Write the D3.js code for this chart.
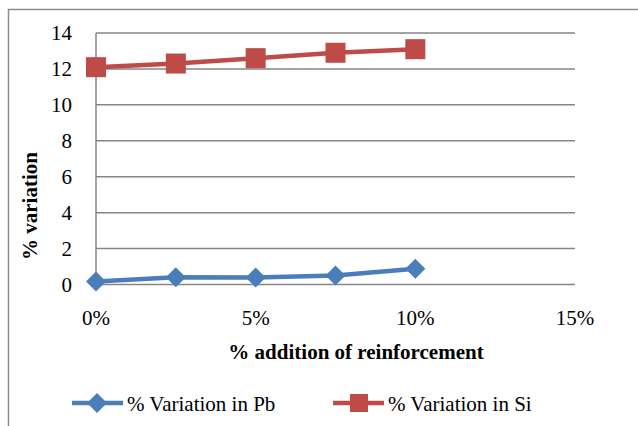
<!DOCTYPE html>
<html>
<head>
<meta charset="utf-8">
<script src="https://cdn.jsdelivr.net/npm/d3@7"></script>
</head>
<body style="margin:0">
<div id="chart"></div>
<script>
// % variation vs % reinforcement
var width = 638, height = 426;
var serif = "Liberation Serif";

// data
var additions = [0, 2.5, 5, 7.5, 10];
var pbValues = [0.17, 0.4, 0.39, 0.5, 0.88];
var siValues = [12.1, 12.3, 12.6, 12.9, 13.1];
var xTicks = [0, 5, 10, 15];
var yTicks = [0, 2, 4, 6, 8, 10, 12, 14];
var seriesNames = ["% Variation in Pb", "% Variation in Si"];

var svg = d3.select("#chart").append("svg")
    .attr("width", width).attr("height", height);

// outer frame of the chart
svg.append("rect").attr("x", 8.5).attr("y", 9.5)
    .attr("width", 700).attr("height", 500)
    .attr("fill", "none").attr("stroke", "#8c8c8c").attr("stroke-width", 1.5);

var x = d3.scaleLinear().domain([0, 15]).range([96, 575]);
var y = d3.scaleLinear().domain([0, 14]).range([284.5, 33]);

// gridlines
svg.append("g").selectAll("line").data(yTicks).enter().append("line")
    .attr("x1", x(0)).attr("x2", x(15))
    .attr("y1", function(d){ return y(d); }).attr("y2", function(d){ return y(d); })
    .attr("stroke", "#868686").attr("stroke-width", 1.5);

// left axis line
svg.append("line").attr("x1", x(0)).attr("x2", x(0))
    .attr("y1", y(14)).attr("y2", y(0))
    .attr("stroke", "#868686").attr("stroke-width", 1.5);

// tick labels
svg.append("g").selectAll("text").data(yTicks).enter().append("text")
    .attr("x", x(0) - 24).attr("y", function(d){ return y(d) + 7; })
    .attr("text-anchor", "end")
    .attr("font-family", serif).attr("font-size", 21)
    .text(function(d){ return d; });

svg.append("g").selectAll("text").data(xTicks).enter().append("text")
    .attr("x", function(d){ return x(d); }).attr("y", y(0) + 40)
    .attr("text-anchor", "middle")
    .attr("font-family", serif).attr("font-size", 21)
    .text(function(d){ return d + "%"; });

// axis titles
svg.append("text").attr("x", 356).attr("y", 359)
    .attr("text-anchor", "middle").attr("font-family", serif)
    .attr("font-size", 21).attr("font-weight", "bold")
    .text("% addition of reinforcement");
svg.append("text").attr("transform", "translate(37,206) rotate(-90)")
    .attr("text-anchor", "middle").attr("font-family", serif)
    .attr("font-size", 21).attr("font-weight", "bold")
    .text("% variation");

// lines
var line = d3.line()
    .x(function(d){ return x(d[0]); })
    .y(function(d){ return y(d[1]); });

var pbData = additions.map(function(a, i){ return [a, pbValues[i]]; });
var siData = additions.map(function(a, i){ return [a, siValues[i]]; });

var colors = ["#4a7ebb", "#be4b48"];

svg.append("path").datum(pbData).attr("d", line)
    .attr("fill", "none").attr("stroke", colors[0]).attr("stroke-width", 4.5);
svg.append("path").datum(siData).attr("d", line)
    .attr("fill", "none").attr("stroke", colors[1]).attr("stroke-width", 4.5);

var diamond = d3.symbol().type(d3.symbolSquare).size(200);

svg.append("g").selectAll("path").data(pbData).enter().append("path")
    .attr("d", diamond)
    .attr("transform", function(d){ return "translate(" + x(d[0]) + "," + y(d[1]) + ") rotate(45)"; })
    .attr("fill", colors[0]);

svg.append("g").selectAll("rect").data(siData).enter().append("rect")
    .attr("x", function(d){ return x(d[0]) - 10; })
    .attr("y", function(d){ return y(d[1]) - 10; })
    .attr("width", 20).attr("height", 20)
    .attr("fill", colors[1]);

// legend
var legendX = [72, 333];
var legend = svg.append("g").selectAll("g").data(seriesNames).enter().append("g")
    .attr("transform", function(d, i){ return "translate(" + legendX[i] + ",403)"; });
legend.append("line").attr("x1", 0).attr("x2", 51).attr("y1", 0).attr("y2", 0)
    .attr("stroke", function(d, i){ return colors[i]; }).attr("stroke-width", 4.5);
legend.filter(function(d, i){ return i === 0; }).append("path")
    .attr("d", diamond).attr("transform", "translate(25,0) rotate(45)")
    .attr("fill", colors[0]);
legend.filter(function(d, i){ return i === 1; }).append("rect")
    .attr("x", 17).attr("y", -9).attr("width", 18).attr("height", 18)
    .attr("fill", colors[1]);
legend.append("text").attr("x", 55).attr("y", 8)
    .attr("font-family", serif).attr("font-size", 21)
    .text(function(d){ return d; });
</script>
</body>
</html>
